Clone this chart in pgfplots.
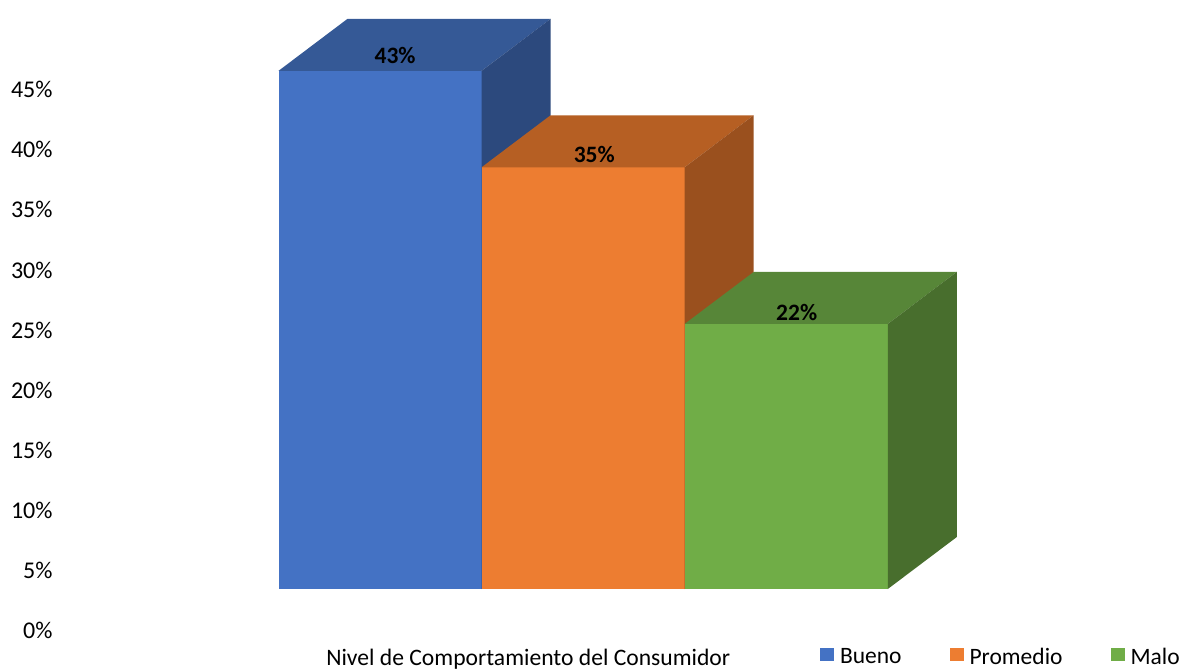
\documentclass[border=0pt]{standalone}
\usepackage{pgfplots}
\pgfplotsset{compat=1.18}
\usepackage{fontspec}
\setmainfont{Carlito}
\definecolor{bF}{HTML}{4472C4}
\definecolor{bT}{HTML}{355996}
\definecolor{bS}{HTML}{2C497D}
\definecolor{oF}{HTML}{ED7D31}
\definecolor{oT}{HTML}{B65F23}
\definecolor{oS}{HTML}{9A501E}
\definecolor{gF}{HTML}{70AD47}
\definecolor{gT}{HTML}{578638}
\definecolor{gS}{HTML}{486E2D}
\begin{document}
\begin{tikzpicture}
\begin{axis}[
  width=1185pt, height=669pt, scale only axis,
  xmin=-1.8713, xmax=3.9633, ymin=-0.06639, ymax=0.48880,
  axis line style={draw=none}, xtick=\empty,
  major tick length=0pt,
  ytick={-0.0340,0.0158,0.0656,0.1154,0.1652,0.2150,0.2648,0.3146,0.3644,0.4142},
  yticklabels={0\%,5\%,10\%,15\%,20\%,25\%,30\%,35\%,40\%,45\%},
  yticklabel style={anchor=east, inner sep=0pt, xshift=52.7pt, font=\fontsize{24}{28}\selectfont},
  /pgf/number format/assume math mode=true,
  clip=false,
  xlabel={Nivel de Comportamiento del Consumidor},
  xlabel style={at={(axis description cs:0.4458,0.0060)}, anchor=base, inner sep=0pt, font=\fontsize{23.6}{27}\selectfont},
  legend columns=3,
  legend style={draw=none, fill=none, inner sep=0pt, outer sep=0pt,
    at={(axis description cs:0.692,0.0050)}, anchor=south west,
    nodes={inner sep=0pt, outer sep=0pt}, font=\fontsize{23.5}{27}\selectfont,
    column sep=6pt, /tikz/every even column/.append style={column sep=48pt}},
  sq/.style={legend image code/.code={\fill[##1] (0pt,-4pt) rectangle (14pt,9pt);}},
  lbl/.style={nodes near coords={\pgfmathprintnumber[fixed,precision=0]{\pgfplotspointmeta}\%},
    point meta={y*100},
    every node near coord/.append style={anchor=center, inner sep=0pt, font=\bfseries\fontsize{23.5}{27}\selectfont, text=black}},
]
% Bueno
\addplot[ybar, bar width=1, bar shift=0pt, fill=bF, draw=none, sq, lbl,
  every node near coord/.append style={xshift=15pt, yshift=15.7pt}] coordinates {(0,0.43)};
\addlegendentry{Bueno}
\addplot[fill=bT, draw=none, forget plot] coordinates {(-0.5,0.43) (0.5,0.43) (0.8397,0.47315) (-0.1603,0.47315)} -- cycle;
\addplot[fill=bS, draw=none, forget plot] coordinates {(0.5,0) (0.5,0.43) (0.8397,0.47315) (0.8397,0.04315)} -- cycle;
% Promedio
\addplot[ybar, bar width=1, bar shift=0pt, fill=oF, draw=none, sq, lbl,
  every node near coord/.append style={xshift=11.1pt, yshift=12.7pt}] coordinates {(1,0.35)};
\addlegendentry{Promedio}
\addplot[fill=oT, draw=none, forget plot] coordinates {(0.5,0.35) (1.5,0.35) (1.8397,0.39315) (0.8397,0.39315)} -- cycle;
\addplot[fill=oS, draw=none, forget plot] coordinates {(1.5,0) (1.5,0.35) (1.8397,0.39315) (1.8397,0.04315)} -- cycle;
% Malo
\addplot[ybar, bar width=1, bar shift=0pt, fill=gF, draw=none, sq, lbl,
  every node near coord/.append style={xshift=10.4pt, yshift=11.6pt}] coordinates {(2,0.22)};
\addlegendentry{Malo}
\addplot[fill=gT, draw=none, forget plot] coordinates {(1.5,0.22) (2.5,0.22) (2.8397,0.26315) (1.8397,0.26315)} -- cycle;
\addplot[fill=gS, draw=none, forget plot] coordinates {(2.5,0) (2.5,0.22) (2.8397,0.26315) (2.8397,0.04315)} -- cycle;
\end{axis}
\pgfresetboundingbox
\useasboundingbox (current axis.south west) rectangle (current axis.north east);
\end{tikzpicture}
\end{document}
